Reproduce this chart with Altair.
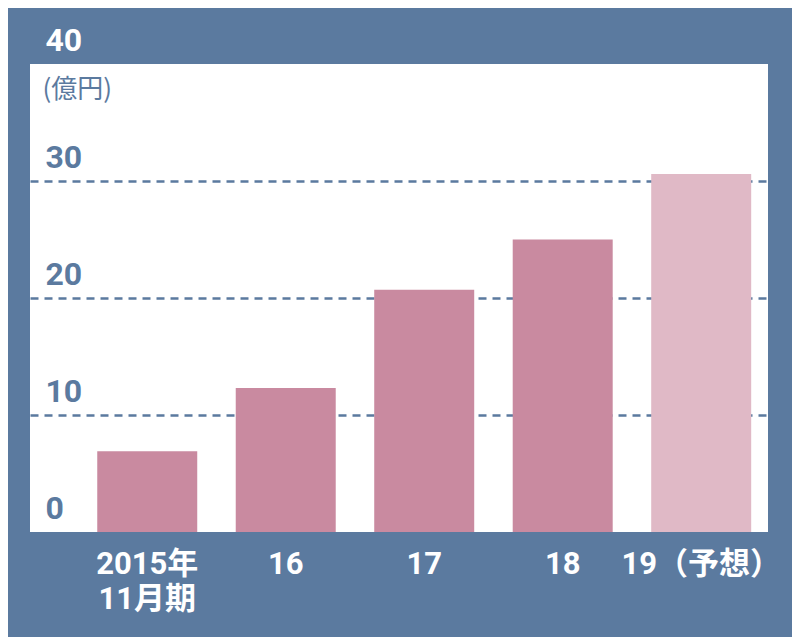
import altair as alt
import pandas as pd

categories = ["2015年|11月期", "16", "17", "18", "19（予想）"]
values = [6.9, 12.3, 20.7, 25.0, 30.6]
kinds = ["実績", "実績", "実績", "実績", "予想"]
y_ticks = [0, 10, 20, 30, 40]

BG = "#5b7a9f"
BAR = "#c98aa0"
BAR_F = "#e0b9c6"
FONT = "Roboto, Noto Sans CJK JP, sans-serif"

df = pd.DataFrame({"cat": categories, "val": values, "kind": kinds})

chart = alt.Chart(df).mark_bar().encode(
    x=alt.X(
        "cat:N",
        sort=categories,
        scale=alt.Scale(paddingInner=0.278, paddingOuter=0.3035, align=0.8),
        axis=alt.Axis(
            title=None, labelAngle=0, labelExpr="split(datum.label, '|')",
            labelColor="white", labelFont=FONT, labelFontSize=31, labelFontWeight="bold",
            labelPadding=17, labelLineHeight=35, labelBaseline="top",
            domain=False, ticks=False, tickSize=0, grid=False,
        ),
    ),
    y=alt.Y(
        "val:Q",
        scale=alt.Scale(domain=[0, 40], nice=False),
        axis=alt.Axis(
            values=y_ticks, title="(億円)", titleAngle=0, titleAlign="left",
            titleBaseline="middle", titleX=12, titleY=25, titleFont="Noto Sans CJK JP",
            titleFontSize=26, titleFontWeight="normal", titleColor=BG,
            labelAlign="left", labelBaseline="alphabetic", labelPadding=-15, labelOffset=-14,
            labelFont=FONT, labelFontSize=32, labelFontWeight="bold",
            labelColor={"condition": {"test": "datum.value == 40", "value": "white"}, "value": BG},
            labelBound=False, labelFlush=False, labelOverlap=False,
            domain=False, ticks=False, tickSize=0,
            grid=True, gridColor=BG, gridDash=[8, 6], gridWidth=2.5,
            gridOpacity={"condition": {"test": "datum.value == 0 || datum.value == 40", "value": 0}, "value": 1},
        ),
    ),
    color=alt.Color("kind:N", scale=alt.Scale(domain=["実績", "予想"], range=[BAR, BAR_F]), legend=None),
).properties(
    width=738,
    height=468,
    autosize=alt.AutoSizeParams(type="none"),
    padding={"left": 22, "top": 56, "right": 24, "bottom": 105},
    background=BG,
).configure_view(fill="white", strokeWidth=0)

chart.save("out.html", embed_options={"renderer": "svg", "actions": False})
